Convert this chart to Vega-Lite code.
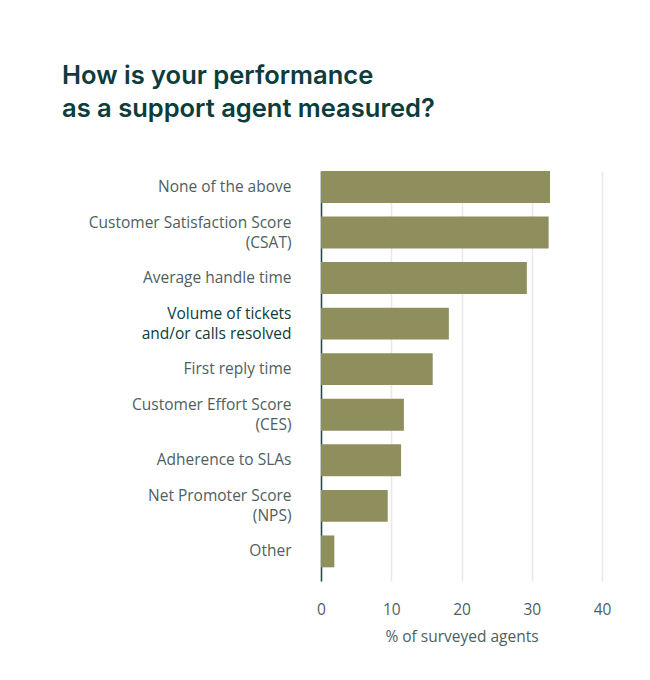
{
  "$schema": "https://vega.github.io/schema/vega-lite/v6.json",
  "width": 281,
  "height": 410,
  "autosize": {"type": "none"},
  "padding": {"left": 321, "top": 171, "right": 48, "bottom": 99},
  "background": "#ffffff",
  "title": {
    "text": ["How is your performance", "as a support agent measured?"],
    "anchor": "start",
    "frame": "group",
    "dx": -259,
    "offset": 49,
    "font": "Inter",
    "fontSize": 25.5,
    "fontWeight": 600,
    "color": "#0c3c3c",
    "lineHeight": 33
  },
  "data": {
    "values": [
      {"measure": "None of the above", "pct": 32.6},
      {"measure": "Customer Satisfaction Score|(CSAT)", "pct": 32.4},
      {"measure": "Average handle time", "pct": 29.3},
      {"measure": "Volume of tickets|and/or calls resolved", "pct": 18.2},
      {"measure": "First reply time", "pct": 15.9},
      {"measure": "Customer Effort Score|(CES)", "pct": 11.8},
      {"measure": "Adherence to SLAs", "pct": 11.4},
      {"measure": "Net Promoter Score|(NPS)", "pct": 9.5},
      {"measure": "Other", "pct": 1.9}
    ]
  },
  "mark": {"type": "bar", "color": "#8e8f5d"},
  "encoding": {
    "y": {
      "field": "measure",
      "type": "nominal",
      "sort": null,
      "scale": {"paddingInner": 0.3, "paddingOuter": 0.15, "align": 0},
      "axis": {
        "title": null,
        "ticks": false,
        "labelPadding": 30,
        "labelExpr": "split(datum.value, '|')",
        "labelFont": "Open Sans",
        "labelFontSize": 15.5,
        "labelLineHeight": 20,
        "labelOffset": {"condition": {"test": "indexof(datum.value, '|') >= 0", "value": -10}, "value": 0},
        "labelColor": {"condition": {"test": "indexof(datum.value, 'Volume') == 0", "value": "#0c3c3c"}, "value": "#4f5e5e"},
        "domainColor": "#1f4a45",
        "domainWidth": 1.5,
        "grid": false,
        "labelLimit": 400
      }
    },
    "x": {
      "field": "pct",
      "type": "quantitative",
      "scale": {"domain": [0, 40]},
      "axis": {
        "title": "% of surveyed agents",
        "values": [0, 10, 20, 30, 40],
        "domain": false,
        "ticks": false,
        "labelFlush": false,
        "labelPadding": 21,
        "labelFont": "Open Sans",
        "labelFontSize": 15.5,
        "labelColor": "#4f5e5e",
        "titleFont": "Open Sans",
        "titleFontSize": 15.5,
        "titleFontWeight": "normal",
        "titleColor": "#4f5e5e",
        "titlePadding": 12,
        "gridColor": "#ece8e8",
        "gridWidth": 1.5
      }
    }
  },
  "config": {"view": {"stroke": null}}
}
